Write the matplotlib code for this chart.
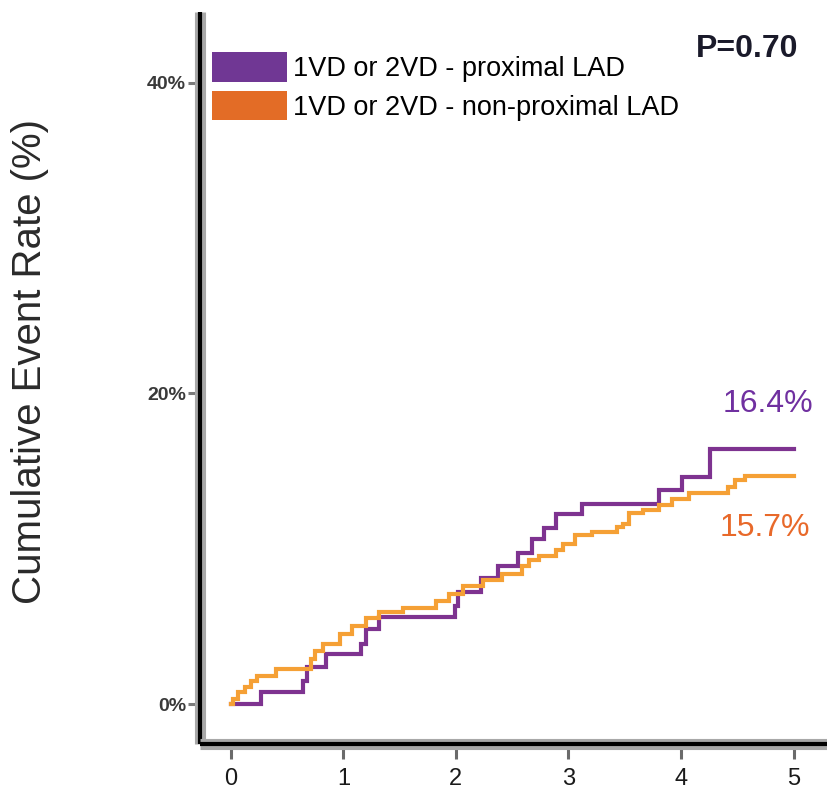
import matplotlib
matplotlib.use("Agg")
import matplotlib.pyplot as plt
import matplotlib.patheffects as pe
from matplotlib.patches import Patch

plt.rcParams['font.family'] = ['Liberation Sans', 'DejaVu Sans']

# Data (years, cumulative event rate %)
prox_t = [0, 0.27, 0.64, 0.68, 0.85, 1.16, 1.20, 1.32, 1.99, 2.02, 2.22, 2.37, 2.55,
          2.68, 2.78, 2.89, 3.12, 3.80, 4.01, 4.26, 5.0]
prox_v = [0, 0.77, 1.5, 2.37, 3.2, 3.85, 4.8, 5.6, 6.3, 7.2, 8.1, 8.87, 9.7,
          10.6, 11.3, 12.2, 12.9, 13.8, 14.6, 16.4, 16.4]

nonprox_t = [0, 0.02, 0.065, 0.124, 0.18, 0.23, 0.40, 0.715, 0.745, 0.82, 0.97, 1.08,
             1.20, 1.32, 1.53, 1.82, 1.94, 2.06, 2.24, 2.41, 2.59, 2.65, 2.74, 2.89,
             2.95, 3.06, 3.21, 3.43, 3.48, 3.54, 3.66, 3.80, 3.92, 4.07, 4.42, 4.48,
             4.57, 5.0]
nonprox_v = [0, 0.3, 0.77, 1.07, 1.5, 1.8, 2.24, 2.88, 3.4, 3.85, 4.5, 5.0,
             5.55, 5.9, 6.2, 6.6, 7.1, 7.6, 8.0, 8.4, 8.9, 9.3, 9.5, 9.9,
             10.3, 10.9, 11.1, 11.4, 11.6, 12.3, 12.5, 12.8, 13.2, 13.6, 14.0, 14.4,
             14.7, 14.7]

series_labels = ["1VD or 2VD - proximal LAD", "1VD or 2VD - non-proximal LAD"]
end_labels = ["16.4%", "15.7%"]
p_text = "P=0.70"
x_ticks = [0, 1, 2, 3, 4, 5]
y_ticks = [0, 20, 40]
y_ticklabels = ["0%", "20%", "40%"]
y_label = "Cumulative Event Rate (%)"

line_purple = "#7E3390"
line_orange = "#F5A035"
leg_purple = "#703794"
leg_orange = "#E36C26"

fig = plt.figure(figsize=(8.27, 8.0), dpi=100)
ax = fig.add_axes([200/827, 56/800, 627/827, 732/800])

ax.step(prox_t, prox_v, where='post', color=line_purple, lw=3, solid_joinstyle='miter')
ax.step(nonprox_t, nonprox_v, where='post', color=line_orange, lw=3, solid_joinstyle='miter')

ax.set_xlim(-0.273, 5.296)
ax.set_ylim(-2.575, 44.55)

for side in ['top', 'right']:
    ax.spines[side].set_visible(False)
for side in ['left', 'bottom']:
    sp = ax.spines[side]
    sp.set_color('black')
    sp.set_linewidth(3)
    sp.set_path_effects([pe.withStroke(linewidth=8, foreground='#a8a8a8')])
    sp.set_capstyle('butt')

ax.set_xticks(x_ticks)
ax.set_xticklabels([str(t) for t in x_ticks], fontsize=17, color='#1a1a1a')
ax.set_yticks(y_ticks)
ax.set_yticklabels(y_ticklabels, fontsize=14, color='#3a3a3a', fontweight='bold')
ax.tick_params(axis='x', direction='out', length=11, width=2.2, color='#6a6a6a', pad=6)
ax.tick_params(axis='y', direction='out', length=9, width=2.2, color='#7a7a7a', pad=1)

fig.text(30/827, 1 - 362/800, y_label, rotation=90, ha='center', va='center',
         fontsize=29, color='#2a2a2a')

ax.text(4.77, 19.3, end_labels[0], color='#7030A0', fontsize=23, ha='center', va='center')
ax.text(4.745, 11.33, end_labels[1], color='#E8692A', fontsize=23, ha='center', va='center')
ax.text(4.59, 42.2, p_text, color='#1a1a2a', fontsize=23, fontweight='bold', ha='center', va='center')

handles = [Patch(facecolor=leg_purple, edgecolor='none'), Patch(facecolor=leg_orange, edgecolor='none')]
ax.legend(handles, series_labels, loc='upper left', bbox_to_anchor=(212/827, 1 - 52/800),
          bbox_transform=fig.transFigure, frameon=False, fontsize=19.5,
          handlelength=2.77, handleheight=1.3, handletextpad=0.22, labelspacing=0.33,
          borderpad=0, borderaxespad=0)

fig.savefig("out.png", dpi=100)
